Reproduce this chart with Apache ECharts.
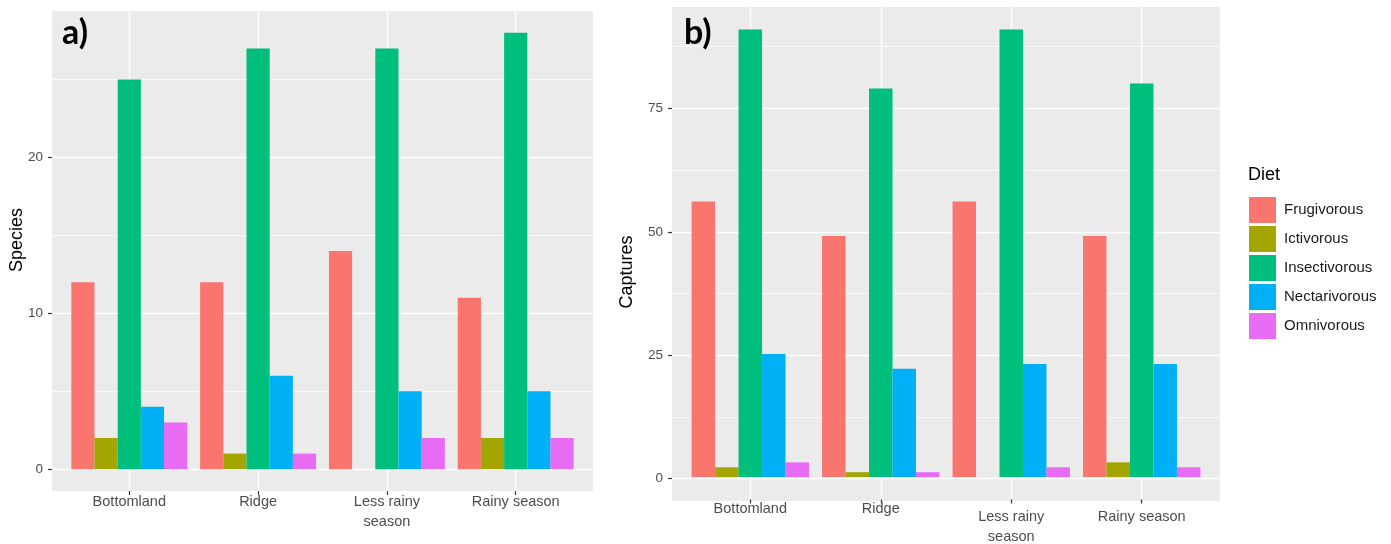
<!DOCTYPE html>
<html>
<head>
<meta charset="utf-8">
<script src="https://cdn.jsdelivr.net/npm/echarts@6/dist/echarts.min.js"></script>
<style>
  html, body { margin: 0; padding: 0; background: #ffffff; }
  #chart { width: 1391px; height: 544px; }
</style>
</head>
<body>
<div id="chart"></div>
<script>
// ---------- data ----------
const categories = ['Bottomland', 'Ridge', 'Less rainy\nseason', 'Rainy season'];
const diets = ['Frugivorous', 'Ictivorous', 'Insectivorous', 'Nectarivorous', 'Omnivorous'];
const dietColors = ['#F8766D', '#A3A500', '#00BF7D', '#00B0F6', '#E76BF3'];

// panel a) Species
const speciesFrugivorous   = [12, 12, 14, 11];
const speciesIctivorous    = [2, 1, 0, 2];
const speciesInsectivorous = [25, 27, 27, 28];
const speciesNectarivorous = [4, 6, 5, 5];
const speciesOmnivorous    = [3, 1, 2, 2];

// panel b) Captures
const capturesFrugivorous   = [56, 49, 56, 49];
const capturesIctivorous    = [2, 1, 0, 3];
const capturesInsectivorous = [91, 79, 91, 80];
const capturesNectarivorous = [25, 22, 23, 23];
const capturesOmnivorous    = [3, 1, 2, 2];

const speciesMajorTicks = [0, 10, 20];
const speciesMinorTicks = [5, 15, 25];
const capturesMajorTicks = [0, 25, 50, 75];
const capturesMinorTicks = [12.5, 37.5, 62.5, 87.5];

// ---------- layout ----------
const FONT = 'Liberation Sans, Arial, sans-serif';
const BG = '#EBEBEB';
const TXT = '#4D4D4D';

function expandRange(values) {
  let max = 0;
  values.forEach(a => a.forEach(v => { if (v > max) max = v; }));
  const pad = max * 0.05;
  return [-pad, max + pad];
}

const speciesSeriesData = [speciesFrugivorous, speciesIctivorous, speciesInsectivorous, speciesNectarivorous, speciesOmnivorous];
const capturesSeriesData = [capturesFrugivorous, capturesIctivorous, capturesInsectivorous, capturesNectarivorous, capturesOmnivorous];
const rangeA = expandRange(speciesSeriesData);
const rangeB = expandRange(capturesSeriesData);

// panel rectangles (gray area)
const pA = { left: 52, right: 593, top: 11, bottom: 491 };
const pB = { left: 672, right: 1220, top: 7, bottom: 501 };
function innerGrid(p) {
  const unit = (p.right - p.left) / (categories.length - 1 + 1.2);
  return { left: p.left + 0.6 * unit, width: unit * (categories.length - 1), top: p.top, height: p.bottom - p.top };
}
const gA = innerGrid(pA), gB = innerGrid(pB);

const grids = [
  { left: pA.left, top: pA.top, width: pA.right - pA.left, height: pA.bottom - pA.top, show: true, backgroundColor: BG, borderWidth: 0 },
  { left: gA.left, top: gA.top, width: gA.width, height: gA.height, show: false },
  { left: pB.left, top: pB.top, width: pB.right - pB.left, height: pB.bottom - pB.top, show: true, backgroundColor: BG, borderWidth: 0 },
  { left: gB.left, top: gB.top, width: gB.width, height: gB.height, show: false }
];

function bgXAxis(gi) {
  return { type: 'value', gridIndex: gi, min: 0, max: 1, show: false };
}
function catXAxis(gi, panelB) {
  return {
    type: 'category', gridIndex: gi, data: categories, boundaryGap: false, position: 'bottom',
    axisLine: { show: false, onZero: false },
    axisTick: { show: true, length: 4, lineStyle: { color: '#333333', width: 1.2 } },
    splitLine: { show: true, lineStyle: { color: '#FFFFFF', width: 1.4 } },
    axisLabel: panelB ? {
      interval: 0, margin: -1, color: TXT, fontFamily: FONT, fontSize: 14.5,
      formatter: function (v, i) {
        const lines = v.split('\n').map(l => '{n|' + l + '}').join('\n');
        return i >= 2 ? '{sp| }\n' + lines : lines;
      },
      rich: {
        n: { color: TXT, fontFamily: FONT, fontSize: 14.5, lineHeight: 20 },
        sp: { fontSize: 1, lineHeight: 8 }
      }
    } : {
      interval: 0, margin: 1, color: TXT, fontFamily: FONT, fontSize: 14.5, lineHeight: 20
    }
  };
}
function bgYAxis(gi, range, majors) {
  return {
    type: 'value', gridIndex: gi, min: range[0], max: range[1],
    axisLine: { show: false },
    splitLine: { show: false },
    axisTick: { show: true, length: 4, lineStyle: { color: '#333333', width: 1.2 }, customValues: majors },
    axisLabel: { margin: 9, color: TXT, fontFamily: FONT, fontSize: 13.5, customValues: majors }
  };
}
function hiddenYAxis(gi, range) {
  return { type: 'value', gridIndex: gi, min: range[0], max: range[1], show: false };
}

function gridLineSeries(xi, yi, majors, minors) {
  const data = majors.map(v => ({ yAxis: v, lineStyle: { color: '#FFFFFF', width: 1.4, type: 'solid' } }))
    .concat(minors.map(v => ({ yAxis: v, lineStyle: { color: '#FFFFFF', width: 0.7, type: 'solid' } })));
  return {
    type: 'line', xAxisIndex: xi, yAxisIndex: yi, data: [], z: 0, silent: true,
    markLine: { silent: true, z: 0, zlevel: 0, symbol: ['none', 'none'], label: { show: false }, animation: false, data: data }
  };
}

const series = [
  gridLineSeries(0, 0, speciesMajorTicks, speciesMinorTicks),
  gridLineSeries(2, 2, capturesMajorTicks, capturesMinorTicks)
];
diets.forEach((d, k) => {
  series.push({
    name: d, type: 'bar', xAxisIndex: 1, yAxisIndex: 1, data: speciesSeriesData[k],
    barGap: '0%', barCategoryGap: '10%', clip: false, z: 10,
    itemStyle: { color: dietColors[k] }
  });
});
diets.forEach((d, k) => {
  series.push({
    name: d, type: 'bar', xAxisIndex: 3, yAxisIndex: 3, data: capturesSeriesData[k],
    barGap: '0%', barCategoryGap: '10%', clip: false, z: 10,
    itemStyle: { color: dietColors[k] }
  });
});

const option = {
  animation: false,
  backgroundColor: '#FFFFFF',
  grid: grids,
  xAxis: [bgXAxis(0), catXAxis(1, false), bgXAxis(2), catXAxis(3, true)],
  yAxis: [bgYAxis(0, rangeA, speciesMajorTicks), hiddenYAxis(1, rangeA), bgYAxis(2, rangeB, capturesMajorTicks), hiddenYAxis(3, rangeB)],
  legend: {
    data: diets, orient: 'vertical', left: 1249, top: 197, padding: 0,
    icon: 'rect', itemWidth: 27, itemHeight: 26, itemGap: 3,
    selectedMode: false,
    textStyle: { color: '#1A1A1A', fontFamily: FONT, fontSize: 15, padding: [0, 0, 0, 3] }
  },
  graphic: [
    { type: 'text', left: 62, top: 16, z: 20, style: { text: 'a)', font: 'bold 34px Lato, "Open Sans", sans-serif', fill: '#000' } },
    { type: 'text', left: 684, top: 16, z: 20, style: { text: 'b)', font: 'bold 34px Lato, "Open Sans", sans-serif', fill: '#000' } },
    { type: 'text', x: 17, y: 240, rotation: Math.PI / 2, style: { text: 'Species', font: '18px ' + FONT, fill: '#000', align: 'center', verticalAlign: 'middle' } },
    { type: 'text', x: 627, y: 272, rotation: Math.PI / 2, style: { text: 'Captures', font: '18px ' + FONT, fill: '#000', align: 'center', verticalAlign: 'middle' } },
    { type: 'text', x: 1248, y: 175, style: { text: 'Diet', font: '18px ' + FONT, fill: '#000', align: 'left', verticalAlign: 'middle' } }
  ],
  series: series
};

const chart = echarts.init(document.getElementById('chart'), null, { renderer: 'canvas' });
chart.setOption(option);
</script>
</body>
</html>
